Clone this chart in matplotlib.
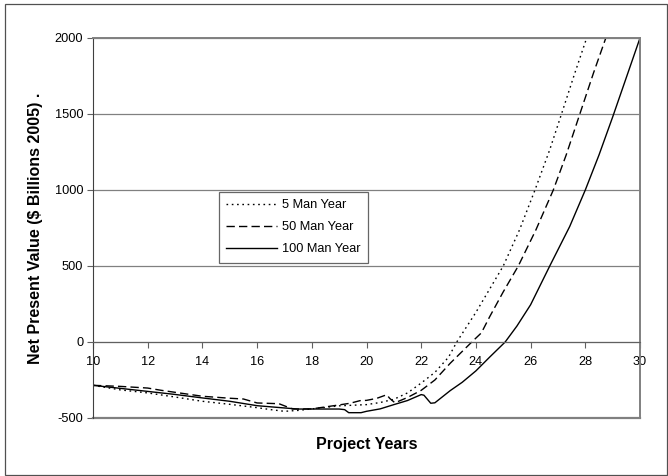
import numpy as np
import matplotlib.pyplot as plt
from matplotlib.patches import Rectangle

plt.rcParams['font.family'] = ['Liberation Sans', 'DejaVu Sans']
plt.rcParams['axes.unicode_minus'] = False

# series (project year, NPV in $ billions 2005)
x5 = [10, 10.5, 11, 12, 13, 14, 15, 16, 16.5, 17, 17.5, 18, 19, 19.5, 20, 20.5,
      21, 21.5, 22, 22.5, 23, 23.3, 24, 25, 25.6, 26.16, 26.7, 27.13, 27.6, 28.05]
y5 = [-285, -300, -315, -335, -362, -390, -410, -432, -445, -456, -450, -440,
      -420, -416, -412, -398, -377, -335, -270, -200, -100, 0, 195, 500, 740,
      1000, 1265, 1500, 1760, 2000]

x50 = [10, 11, 12, 12.5, 13, 14, 15, 15.5, 16, 16.8, 17.3, 18, 19, 19.4, 19.76,
       20, 20.37, 20.74, 20.85, 21.04, 21.5, 22, 22.5, 23.06, 23.85, 24.2, 24.5,
       25, 25.55, 26.2, 26.83, 27.3, 27.8, 28.3, 28.75]
y50 = [-285, -292, -303, -318, -331, -357, -370, -375, -401, -406, -441, -440,
       -414, -403, -386, -384, -371, -347, -371, -400, -365, -318, -250, -140, 0,
       60, 165, 330, 500, 740, 1000, 1230, 1500, 1770, 2000]

x100 = [10, 11, 12, 13, 14, 15, 16, 17, 17.5, 18, 19, 19.2, 19.35, 19.8, 20,
        20.5, 21, 21.5, 22, 22.1, 22.35, 22.5, 23.06, 23.5, 24, 24.5, 25.07,
        25.5, 26, 26.7, 27.43, 28, 28.5, 29, 29.5, 30]
y100 = [-285, -305, -325, -345, -368, -390, -419, -434, -441, -441, -441, -445,
        -465, -465, -456, -440, -412, -385, -346, -350, -403, -400, -320, -265,
        -190, -100, 0, 105, 245, 500, 760, 1000, 1230, 1480, 1740, 2000]

fig = plt.figure(figsize=(6.68, 4.76), dpi=100)
ax = fig.add_axes([93/668, 1 - 418/476, (640 - 93)/668, (418 - 38)/476])

ax.plot(x5, y5, color='black', lw=1.0, dashes=(1.2, 2.6), label='5 Man Year')
ax.plot(x50, y50, color='black', lw=1.0, dashes=(6, 3), label='50 Man Year')
ax.plot(x100, y100, color='black', lw=1.0, label='100 Man Year')

ax.set_xlim(10, 30)
ax.set_ylim(-500, 2000)
ax.set_xticks(range(10, 31, 2))
ax.set_yticks(range(-500, 2001, 500))
ax.grid(axis='y', color='#808080', lw=0.9)
ax.set_axisbelow(True)

# x axis crosses at zero, frame around the plot area
ax.spines['bottom'].set_position(('data', 0))
ax.spines['bottom'].set_color('#606060')
ax.spines['left'].set_color('#404040')
for s in ['top', 'right']:
    ax.spines[s].set_color('#808080')
    ax.spines[s].set_linewidth(1.4)
ax.axhline(-500, color='#808080', lw=1.6, clip_on=False)

ax.tick_params(axis='x', direction='out', length=4, pad=6, labelsize=9.2,
               color='#606060')
ax.tick_params(axis='y', direction='out', length=4, pad=3, labelsize=9.2,
               color='#606060')

fig.text(367/668, 1 - 444/476, 'Project Years', ha='center', va='center',
         fontsize=11.5, fontweight='bold')
fig.text(36/668, 1 - 228/476, 'Net Present Value ($ Billions 2005) .',
         ha='center', va='center', rotation=90, fontsize=11.5,
         fontweight='bold')

leg = fig.legend(loc='upper left', bbox_to_anchor=(219/668, 1 - 192/476),
                 fontsize=9.2, frameon=True, fancybox=False, edgecolor='#404040',
                 handlelength=4.0, labelspacing=0.8, borderaxespad=0,
                 borderpad=0.55, handletextpad=0.4)
leg.get_frame().set_linewidth(0.9)

# outer chart border
fig.add_artist(Rectangle((5/668, 1/476), 662/668, 471/476,
                         transform=fig.transFigure, fill=False,
                         ec='#505050', lw=0.9))

fig.savefig('out.png', dpi=100)
